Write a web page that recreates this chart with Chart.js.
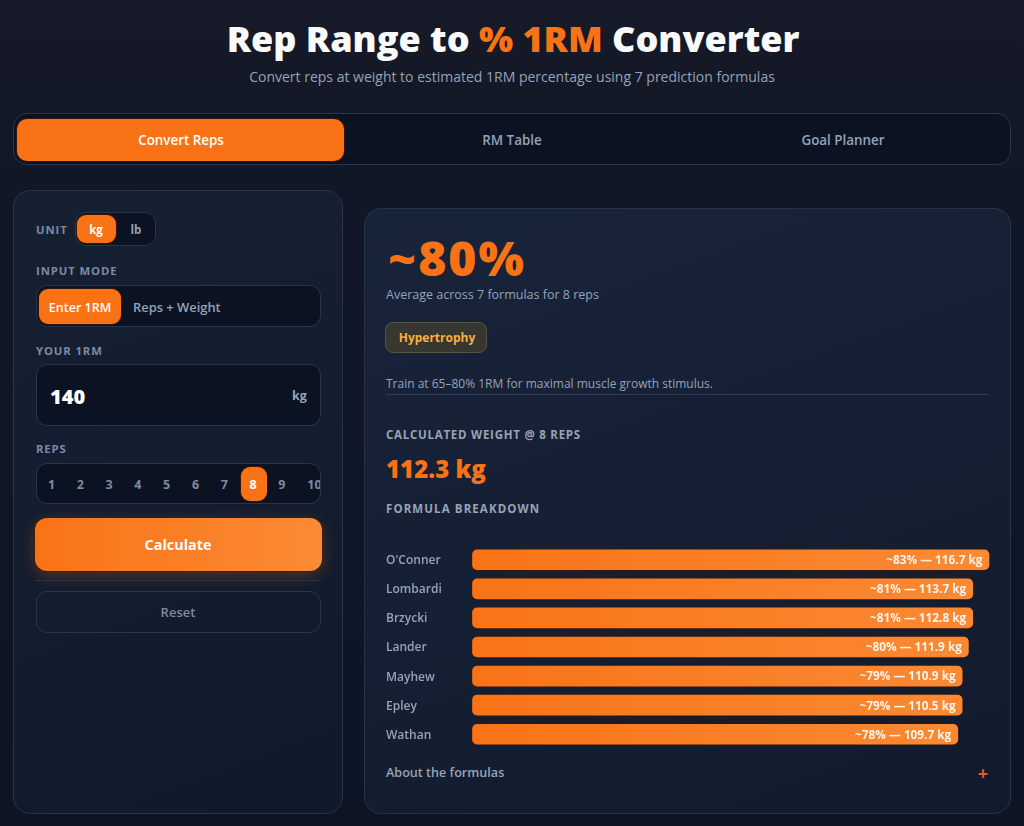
<!DOCTYPE html>
<html>
<head>
<meta charset="utf-8">
<title>Rep Range to % 1RM Converter</title>
<script src="https://cdn.jsdelivr.net/npm/chart.js@4"></script>
<style>
html,body{margin:0;padding:0;width:1024px;height:826px;overflow:hidden}
body{position:relative;background:linear-gradient(180deg,#171a27 0,#111726 200px,#0d1525 100%);font-family:"Open Sans",sans-serif;color:#94a3b8}
.t{position:absolute;white-space:nowrap;transform:translateY(calc(-50% - 1px))}
.c{transform:translate(-50%,calc(-50% - 1px))}
.box{position:absolute;box-sizing:border-box;border:1.5px solid #27364d;border-radius:11px;background:#0b1222}
.on{position:absolute;box-sizing:border-box;background:#f97316;border-radius:9px;box-shadow:0 0 0 1px rgba(70,25,0,.7)}
.card{position:absolute;box-sizing:border-box;border:1.5px solid #26344a;border-radius:17px}
.lab{font-size:11.3px;font-weight:700;letter-spacing:.9px;color:#7d8aa5}
.lab2{font-size:11.5px;font-weight:700;letter-spacing:1px;color:#98a3b5}
#chartWrap{position:absolute;left:386px;top:538px;width:604px;height:218px}
</style>
</head>
<body>

<div class="t c" style="left:513px;top:39px;font-size:36px;font-weight:800;color:#f8fafc">Rep Range to <span style="color:#f97316">% 1RM</span> Converter</div>
<div class="t c" style="left:512px;top:77px;font-size:14px">Convert reps at weight to estimated 1RM percentage using 7 prediction formulas</div>

<div class="box" style="left:13px;top:113px;width:998px;height:52px;border-radius:14px"></div>
<div class="on" style="left:17px;top:119px;width:327px;height:42px;border-radius:10px"></div>
<div class="t c" style="left:181px;top:141px;font-size:13.4px;font-weight:600;color:#fff">Convert Reps</div>
<div class="t c" style="left:512px;top:141px;font-size:13.4px;font-weight:600">RM Table</div>
<div class="t c" style="left:843px;top:141px;font-size:13.4px;font-weight:600">Goal Planner</div>

<div class="card" style="left:13px;top:190px;width:330px;height:624px;background:linear-gradient(160deg,#162033,#111a2b)"></div>
<div class="t lab" style="left:36px;top:230px">UNIT</div>
<div class="box" style="left:75px;top:212px;width:81px;height:34px"></div>
<div class="on" style="left:77px;top:215px;width:39px;height:28px"></div>
<div class="t c" style="left:96px;top:230px;font-size:11.5px;font-weight:700;color:#fff">kg</div>
<div class="t c" style="left:136px;top:230px;font-size:11.5px;font-weight:700">lb</div>

<div class="t lab" style="left:36px;top:271px">INPUT MODE</div>
<div class="box" style="left:36px;top:285px;width:285px;height:42px"></div>
<div class="on" style="left:39px;top:289px;width:82px;height:35px"></div>
<div class="t c" style="left:80px;top:308px;font-size:12.5px;font-weight:600;color:#fff">Enter 1RM</div>
<div class="t" style="left:133px;top:308px;font-size:12.9px;font-weight:600">Reps + Weight</div>

<div class="t lab" style="left:36px;top:351px">YOUR 1RM</div>
<div class="box" style="left:36px;top:364px;width:285px;height:62px"></div>
<div class="t" style="left:50px;top:397px;font-size:20px;font-weight:800;color:#fff">140</div>
<div class="t" style="left:292px;top:396px;font-size:12.5px;font-weight:700">kg</div>

<div class="t lab" style="left:36px;top:449px">REPS</div>
<div class="box" id="repsBox" style="left:36px;top:463px;width:285px;height:41px;overflow:hidden"></div>

<div style="position:absolute;left:35px;top:518px;width:287px;height:53px;border-radius:12px;background:linear-gradient(90deg,#f97316,#fb8a35);box-shadow:0 0 0 1px rgba(70,25,0,.7),0 4px 16px rgba(249,115,22,.28)"></div>
<div class="t c" style="left:178px;top:545px;font-size:14.4px;font-weight:700;color:#fff">Calculate</div>
<div style="position:absolute;left:35px;top:580px;width:286px;height:1px;background:#26344a"></div>
<div class="box" style="left:36px;top:591px;width:285px;height:42px;background:none"></div>
<div class="t c" style="left:178px;top:613px;font-size:13px;font-weight:600;color:#7f8aa0">Reset</div>

<div class="card" style="left:363.5px;top:208px;width:647.5px;height:606px;background:linear-gradient(160deg,#18243a,#121b2d)"></div>
<div class="t" style="left:388px;top:259px;font-size:48px;line-height:1;font-weight:800;letter-spacing:2px;color:#f97316">~80%</div>
<div class="t" style="left:386px;top:295px;font-size:12.5px;line-height:1.2">Average across 7 formulas for 8 reps</div>
<div style="position:absolute;box-sizing:border-box;left:385px;top:322px;width:102px;height:31px;border-radius:8px;background:#37362f;border:1.5px solid #58533f"></div>
<div class="t c" style="left:437px;top:338px;font-size:12px;font-weight:700;color:#f5b041">Hypertrophy</div>
<div class="t" style="left:386px;top:384px;font-size:12px">Train at 65–80% 1RM for maximal muscle growth stimulus.</div>
<div style="position:absolute;left:386px;top:394px;width:603px;height:1px;background:#2c3d55"></div>
<div class="t lab2" style="left:386px;top:435px;letter-spacing:.75px">CALCULATED WEIGHT @ 8 REPS</div>
<div class="t" style="left:386px;top:469px;font-size:24px;font-weight:800;color:#f97316">112.3 kg</div>
<div class="t lab2" style="left:386px;top:509px;letter-spacing:1.1px">FORMULA BREAKDOWN</div>

<div id="chartWrap"><canvas id="bars" width="604" height="218"></canvas></div>

<div class="t" style="left:386px;top:773px;font-size:12.6px;font-weight:600">About the formulas</div>
<div class="t c" style="left:983px;top:774px;font-size:18px;font-weight:700;color:#e4572e">+</div>

<script>
// values
let formulas=["O'Conner","Lombardi","Brzycki","Lander","Mayhew","Epley","Wathan"];
let barLengths=[83,80.4,80.4,79.7,78.7,78.7,78];   // % as the bars are drawn
let pctLabels=["~83%","~81%","~81%","~80%","~79%","~79%","~78%"];
let kgLabels=["116.7 kg","113.7 kg","112.8 kg","111.9 kg","110.9 kg","110.5 kg","109.7 kg"];
let repOptions=[1,2,3,4,5,6,7,8,9,10];
let activeRep=8;

// REPS ROW
let repsBox=document.getElementById("repsBox");
repOptions.forEach((r,i)=>{
  let x=i==9 ? 277.5 : 14.5+i*28.8;
  if(r===activeRep){
    let on=document.createElement("div");
    on.className="on";
    on.style.cssText="left:"+(x-12.5)+"px;top:3px;width:26px;height:34px";
    repsBox.appendChild(on);
  }
  let d=document.createElement("div");
  d.className="t c";
  d.style.cssText="left:"+x+"px;top:21px;font-size:12.5px;font-weight:700;color:"+(r===activeRep?"#fff":"#7f8aa0");
  d.innerText=r;
  repsBox.appendChild(d);
});

// TEXT INSIDE BARS
let barText={
  id:"barText",
  afterDatasetsDraw(chart){
    let ctx=chart.ctx;
    ctx.save();
    ctx.font="700 11.8px 'Open Sans'";
    ctx.fillStyle="#fff4e8";
    ctx.textAlign="right";
    ctx.textBaseline="middle";
    chart.getDatasetMeta(0).data.forEach((bar,i)=>{
      ctx.fillText(pctLabels[i]+" — "+kgLabels[i],bar.x-7.5,bar.y+1);
    });
    ctx.restore();
  }
};

new Chart(document.getElementById("bars"),{
  type:"bar",
  data:{
    labels:formulas,
    datasets:[{
      data:barLengths,
      barThickness:22,
      borderRadius:6,
      borderSkipped:false,
      borderWidth:1,
      borderColor:"rgba(60,22,0,.75)",
      backgroundColor:ctx=>{
        let area=ctx.chart.chartArea;
        if(!area) return "#f97316";
        let g=ctx.chart.ctx.createLinearGradient(area.left,0,area.right,0);
        g.addColorStop(0,"#f97316");
        g.addColorStop(1,"#fb8a35");
        return g;
      }
    }]
  },
  options:{
    indexAxis:"y",
    responsive:false,
    animation:false,
    layout:{padding:0},
    plugins:{legend:{display:false},tooltip:{enabled:false}},
    scales:{
      x:{display:false,min:0,max:83},
      y:{
        afterFit(a){a.width=85.5},
        grid:{display:false},
        border:{display:false},
        ticks:{
          crossAlign:"far",
          padding:0,
          labelOffset:1,
          color:"#94a3b8",
          font:{family:"'Open Sans'",size:12,weight:"600"}
        }
      }
    }
  },
  plugins:[barText]
});
</script>
</body>
</html>
